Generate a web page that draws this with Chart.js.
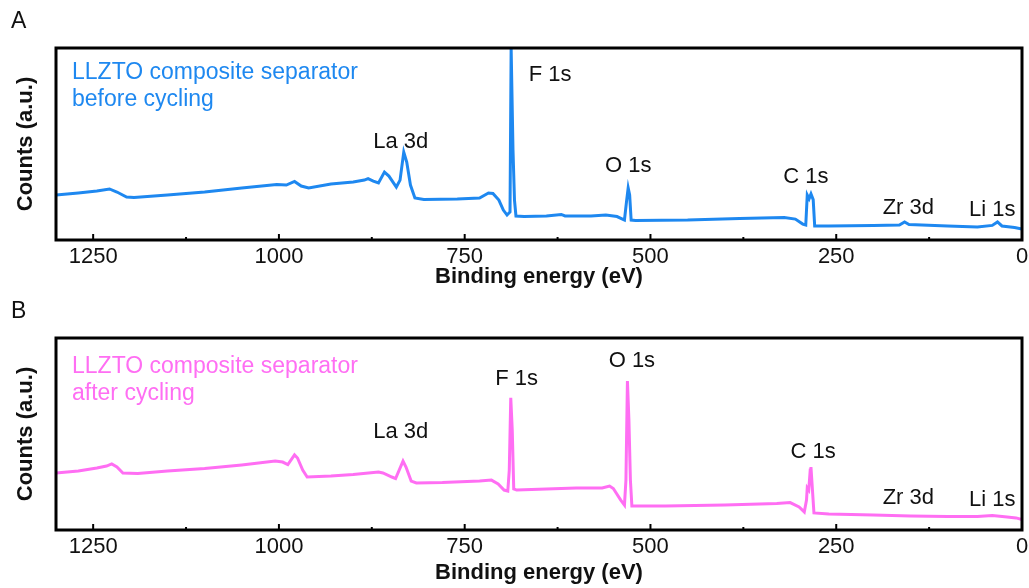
<!DOCTYPE html>
<html>
<head>
<meta charset="utf-8">
<script src="https://cdn.jsdelivr.net/npm/chart.js@4/dist/chart.umd.min.js"></script>
<style>
  body { margin: 0; background: #fff; }
  .panel { position: absolute; left: 0; width: 1029px; }
</style>
</head>
<body>
<div class="panel" style="top:0"><canvas id="before" width="1029" height="290"></canvas></div>
<div class="panel" style="top:290px"><canvas id="after" width="1029" height="298"></canvas></div>
<script>
// binding energy (eV) and counts (a.u.)
var energyBefore = [1300, 1270, 1245, 1228, 1218, 1205, 1195, 1150, 1100, 1050, 1003, 990, 979, 970, 960, 930, 900, 885, 880, 873, 866, 858, 852, 842, 837, 832, 828, 823, 817, 805, 760, 730, 718, 712, 704, 698, 693, 689, 687.5, 686.5, 685, 683, 681, 670, 640, 620, 615, 580, 560, 545, 535, 532, 530, 528, 526, 520, 450, 380, 320, 305, 295, 291, 289, 286.5, 284, 281, 279, 260, 200, 165, 158, 152, 100, 60, 40, 33, 27, 10, 0];
var countsBefore = [23.4, 24.5, 25.5, 26.6, 25, 22.4, 22.1, 23.4, 25, 27.1, 28.9, 28.6, 30.5, 28.1, 27.1, 29.2, 30.2, 31.2, 32, 30.7, 29.7, 35.4, 33.3, 27.6, 31.2, 45.8, 40.6, 28.6, 21.9, 21.1, 21.4, 21.9, 24.5, 24.2, 20.8, 15.6, 13, 14.6, 100, 100, 47, 20.8, 12.5, 12.2, 12.5, 13.3, 12.5, 12.5, 13, 12.2, 10.4, 20.8, 27.1, 23.4, 10.4, 10.2, 10.4, 11.2, 11.7, 10.9, 8.3, 7.8, 23.4, 21.5, 24, 21, 7.3, 7.3, 7.6, 7.8, 9.4, 8.1, 7.3, 6.8, 7.6, 9.4, 7.3, 6.5, 5.7];

var energyAfter = [1300, 1270, 1245, 1232, 1225, 1218, 1210, 1190, 1150, 1100, 1050, 1005, 995, 988, 979, 975, 968, 962, 930, 900, 866, 860, 848, 843, 833, 829, 822, 815, 780, 730, 714, 705, 697, 692, 690, 688, 686, 684, 680, 640, 600, 565, 555, 550, 540, 535, 533, 531, 529, 527, 525, 480, 400, 330, 312, 300, 293, 290, 289, 287, 285, 284, 282, 280, 260, 200, 150, 100, 60, 40, 20, 8, 0];
var countsAfter = [29.7, 30.7, 32.3, 33.3, 34.4, 32.8, 29.7, 29.4, 30.7, 32, 33.9, 35.9, 35.4, 34.1, 39.1, 37.5, 31.2, 27.6, 28.1, 28.9, 30.2, 29.7, 27.6, 26.8, 35.9, 32.8, 25.5, 24.5, 24.7, 25.5, 26, 24, 20.8, 20.3, 31.2, 68.8, 52, 21.4, 20.8, 21.4, 21.9, 21.9, 22.9, 21.6, 15.6, 13, 26, 77.6, 57.3, 26, 12.5, 12.5, 13, 13.8, 14.3, 12, 9.4, 15.6, 21.9, 20.8, 31.2, 32.8, 20.8, 8.9, 8.3, 7.8, 7.3, 7, 7, 7.6, 6.8, 6.3, 5.5];

var majorTicks = [1250, 1000, 750, 500, 250, 0];
var minorTicks = [1125, 875, 625, 375, 125];

// peak labels: text, energy, height
var peaksBefore = [['La 3d', 836, 51], ['F 1s', 635, 86], ['O 1s', 530, 38.5], ['C 1s', 291, 32.8], ['Zr 3d', 153, 16.7], ['Li 1s', 40, 15.6]];
var peaksAfter = [['La 3d', 836, 51], ['F 1s', 680, 78.6], ['O 1s', 525, 88], ['C 1s', 281, 40.6], ['Zr 3d', 153, 16.7], ['Li 1s', 40, 15.6]];

var FONT = '"Liberation Sans", Arial, sans-serif';

function toPoints(xs, ys) {
    return xs.map(function (x, i) { return { x: x, y: ys[i] }; });
}

var framePlugin = {
    id: 'frame',
    afterDatasetsDraw: function (chart, args, opts) {
        var ctx = chart.ctx, a = chart.chartArea, xs = chart.scales.x, ys = chart.scales.y;
        ctx.save();
        // ticks pointing inward
        ctx.strokeStyle = '#000';
        ctx.lineWidth = 2;
        majorTicks.forEach(function (v) {
            var px = xs.getPixelForValue(v);
            ctx.beginPath(); ctx.moveTo(px, a.bottom); ctx.lineTo(px, a.bottom - 6); ctx.stroke();
        });
        minorTicks.forEach(function (v) {
            var px = xs.getPixelForValue(v);
            ctx.beginPath(); ctx.moveTo(px, a.bottom); ctx.lineTo(px, a.bottom - 3); ctx.stroke();
        });
        ctx.lineWidth = 3;
        ctx.strokeRect(a.left, a.top, a.right - a.left, a.bottom - a.top);

        // sample name
        ctx.fillStyle = opts.color;
        ctx.font = '23px ' + FONT;
        ctx.textBaseline = 'middle';
        ctx.textAlign = 'left';
        ctx.fillText('LLZTO composite separator', a.left + 16, a.top + opts.nameY);
        ctx.fillText(opts.sub, a.left + 16, a.top + opts.nameY + 27);

        // peak names
        ctx.fillStyle = '#111';
        ctx.font = '22px ' + FONT;
        ctx.textAlign = 'center';
        opts.peaks.forEach(function (p) {
            ctx.fillText(p[0], xs.getPixelForValue(p[1]), ys.getPixelForValue(p[2]));
        });

        // panel letter
        ctx.font = '23px ' + FONT;
        ctx.textAlign = 'left';
        ctx.fillText(opts.letter, 11, 22);
        ctx.restore();
    }
};

function makeChart(id, xs, ys, color, sub, peaks, letter, nameY, bottomSpace, titlePad) {
    return new Chart(document.getElementById(id), {
        type: 'scatter',
        data: {
            datasets: [{
                data: toPoints(xs, ys),
                showLine: true,
                borderColor: color,
                borderWidth: 3,
                pointRadius: 0,
                tension: 0
            }]
        },
        options: {
            responsive: false,
            animation: false,
            layout: { padding: { top: 48, right: 7, left: 0, bottom: 0 } },
            plugins: {
                legend: { display: false },
                tooltip: { enabled: false },
                frame: { color: color, sub: sub, peaks: peaks, letter: letter, nameY: nameY }
            },
            scales: {
                x: {
                    type: 'linear',
                    reverse: true,
                    min: 0,
                    max: 1300,
                    grid: { display: false, drawTicks: false },
                    border: { display: false },
                    afterBuildTicks: function (s) {
                        s.ticks = majorTicks.map(function (v) { return { value: v }; });
                    },
                    afterFit: function (s) {
                        s.height = bottomSpace;
                        s.paddingLeft = 0;
                        s.paddingRight = 0;
                    },
                    ticks: {
                        color: '#111',
                        font: { family: FONT, size: 22 },
                        padding: 4,
                        maxRotation: 0,
                        callback: function (v) { return String(v); }
                    },
                    title: {
                        display: true,
                        text: 'Binding energy (eV)',
                        color: '#111',
                        font: { family: FONT, size: 22, weight: 'bold' },
                        padding: { top: 0, bottom: titlePad }
                    }
                },
                y: {
                    min: 0,
                    max: 100,
                    grid: { display: false, drawTicks: false },
                    border: { display: false },
                    ticks: { display: false },
                    afterFit: function (s) { s.width = 56; },
                    title: {
                        display: true,
                        text: 'Counts (a.u.)',
                        color: '#111',
                        font: { family: FONT, size: 22, weight: 'bold' },
                        padding: { top: 13, bottom: 0 }
                    }
                }
            }
        },
        plugins: [framePlugin]
    });
}

makeChart('before', energyBefore, countsBefore, '#1e88f0', 'before cycling', peaksBefore, 'A', 25, 50, 0);
makeChart('after', energyAfter, countsAfter, '#ff6ef3', 'after cycling', peaksAfter, 'B', 29, 58, 2);
</script>
</body>
</html>
